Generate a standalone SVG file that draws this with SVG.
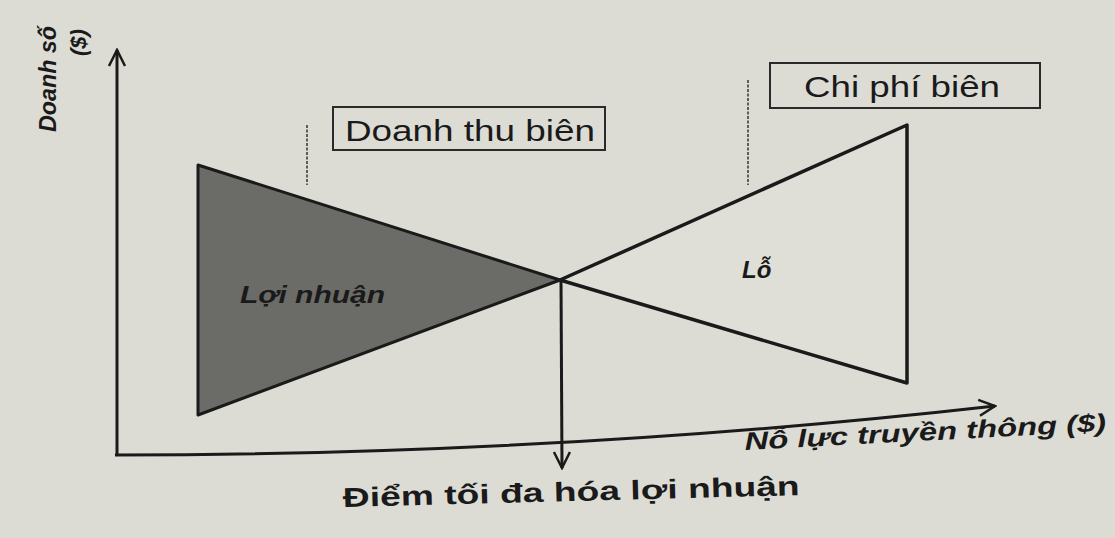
<svg xmlns="http://www.w3.org/2000/svg" width="1115" height="538" viewBox="0 0 1115 538">
<defs>
<style>
.lbl{font-family:"Liberation Sans",Arial,sans-serif;fill:#1a1a1a}
.it{font-style:italic;font-weight:bold}
.box{fill:none;stroke:#2a2a2a;stroke-width:2}
.ax{fill:none;stroke:#1a1a1a;stroke-width:3}
.lead{stroke:#333;stroke-width:1.5;stroke-dasharray:3 1.5}
</style>
<marker id="ah" viewBox="0 0 12 12" refX="10" refY="6" markerWidth="12" markerHeight="12" markerUnits="userSpaceOnUse" orient="auto">
<path d="M1,1 L10,6 L1,11" fill="none" stroke="#1a1a1a" stroke-width="2"/>
</marker>
<marker id="ah2" viewBox="0 0 20 20" refX="18" refY="10" markerWidth="20" markerHeight="20" markerUnits="userSpaceOnUse" orient="auto">
<path d="M2,2 L18,10 L2,18" fill="none" stroke="#1a1a1a" stroke-width="2.5"/>
</marker>
</defs>
<rect width="1115" height="538" fill="#dcdcd5"/>
<g id="axes">
<path class="ax" d="M117,455 L117,50" marker-end="url(#ah2)"/>
<path class="ax" d="M115,455 Q560,455 995,406" marker-end="url(#ah2)"/>
<text class="lbl it" font-size="24" transform="translate(56,132) rotate(-90)" textLength="106" lengthAdjust="spacingAndGlyphs">Doanh số</text>
<text class="lbl it" font-size="22" transform="translate(86,56) rotate(-90)">($)</text>
<text class="lbl it" font-size="25" transform="translate(745,450) rotate(-3)" textLength="362" lengthAdjust="spacingAndGlyphs">Nỗ lực truyền thông ($)</text>
</g>
<g id="profit">
<polygon points="198,165 560,280 198,415" fill="#6b6b68" stroke="#1a1a1a" stroke-width="3" stroke-linejoin="round"/>
<text class="lbl it" font-size="24" x="240" y="303" fill="#2a2a2a" textLength="145" lengthAdjust="spacingAndGlyphs">Lợi nhuận</text>
</g>
<g id="loss">
<polygon points="560,280 907,125 907,383" fill="#dfdfd8" stroke="#1a1a1a" stroke-width="3.5" stroke-linejoin="round"/>
<text class="lbl it" font-size="24" x="742" y="278">Lỗ</text>
</g>
<g id="mr">
<rect class="box" x="333" y="107" width="272" height="43"/>
<text class="lbl" font-size="30" x="345" y="141" textLength="250" lengthAdjust="spacingAndGlyphs">Doanh thu biên</text>
</g>
<g id="mc">
<rect class="box" x="770" y="63" width="270" height="45"/>
<text class="lbl" font-size="30" x="804" y="97" textLength="196" lengthAdjust="spacingAndGlyphs">Chi phí biên</text>
</g>
<g id="max">
<text class="lbl" font-size="27" font-weight="bold" transform="translate(343,507) rotate(-1.5)" textLength="457" lengthAdjust="spacingAndGlyphs">Điểm tối đa hóa lợi nhuận</text>
</g>
<g id="connectors">
<line class="lead" x1="307" y1="125" x2="307" y2="185"/>
<line class="lead" x1="748" y1="80" x2="748" y2="185"/>
<path d="M561,280 L562,468" fill="none" stroke="#1a1a1a" stroke-width="3" marker-end="url(#ah2)"/>
</g>
</svg>
